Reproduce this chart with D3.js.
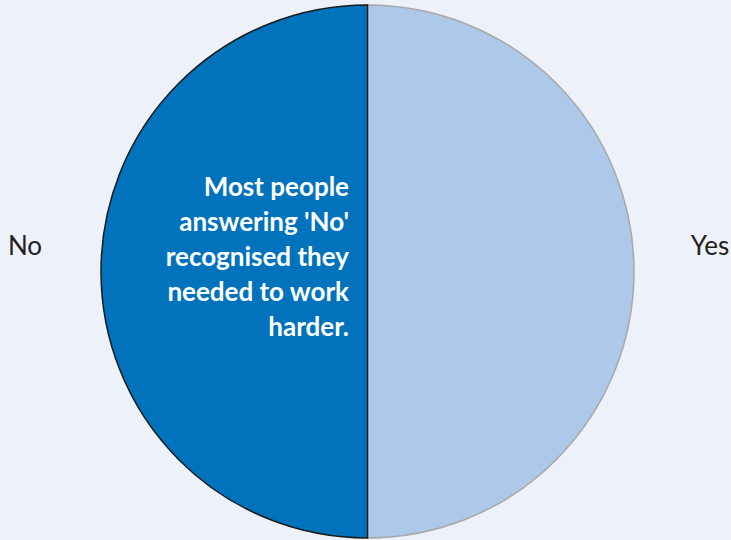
<!DOCTYPE html>
<html>
<head>
<meta charset="utf-8">
<script src="https://cdn.jsdelivr.net/npm/d3@7"></script>
<style>
  body { margin: 0; background: #edf1f9; }
  svg { display: block; }
</style>
</head>
<body>
<div class="pie-holder"></div>
<script>
var categories = ["Yes", "No"];
var values = [50, 50];
var noteLines = ["Most people", "answering 'No'", "recognised they", "needed to work", "harder."];

var width = 731, height = 540;
var cx = 367.5, cy = 271.5, radius = 266.5;

var color = d3.scaleOrdinal().domain(categories).range(["#adc8e8", "#0173bc"]);
var stroke = d3.scaleOrdinal().domain(categories).range(["#a8a8a8", "#1a1a1a"]);

var svg = d3.select(".pie-holder")
      .append("svg")
      .attr("width", width)
      .attr("height", height);

var data = categories.map(function (c, i) { return {cat: c, value: values[i]}; });

var pie = d3.pie().sort(null).value(function (d) { return d.value; });
var arc = d3.arc().innerRadius(0).outerRadius(radius);

var grp = svg.append("g").attr("transform", `translate(${cx}, ${cy})`);

// draw Yes first so the dark border of No sits on top
grp.selectAll("path.slice")
    .data(pie(data))
    .enter().append("path")
    .attr("class", "slice")
    .attr("d", arc)
    .style("fill", function (d) { return color(d.data.cat); })
    .style("stroke", function (d) { return stroke(d.data.cat); })
    .style("stroke-width", 1.5);

/* Outside labels */
grp.selectAll("text.lbl")
    .data(pie(data))
    .enter().append("text")
    .attr("class", "lbl")
    .attr("x", function (d) {
        var mid = (d.startAngle + d.endAngle) / 2;
        return Math.sin(mid) * (radius + 76);
    })
    .attr("y", -23)
    .attr("text-anchor", "middle")
    .attr("dominant-baseline", "middle")
    .style("font-family", "Lato, sans-serif")
    .style("font-size", "26px")
    .style("fill", "#231f20")
    .text(function (d) { return d.data.cat; });

/* Annotation in the No slice */
var note = svg.append("text")
    .attr("text-anchor", "end")
    .style("font-family", "Lato, sans-serif")
    .style("font-weight", "bold")
    .style("font-size", "26px")
    .style("fill", "#ffffff");

note.selectAll("tspan")
    .data(noteLines)
    .enter().append("tspan")
    .attr("x", 349)
    .attr("y", function (d, i) { return 196 + i * 35; })
    .text(function (d) { return d; });
</script>
</body>
</html>
